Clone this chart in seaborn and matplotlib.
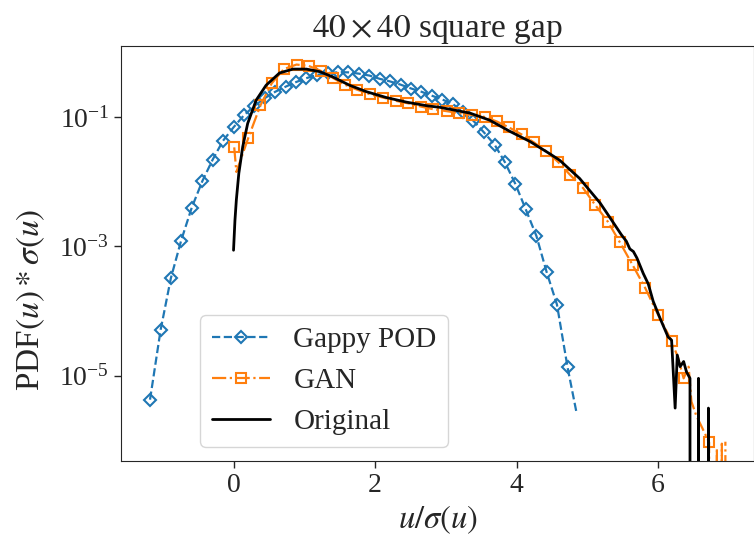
import numpy as np
import pandas as pd
import matplotlib
matplotlib.use("Agg")
import matplotlib.pyplot as plt
import seaborn as sns
from matplotlib.ticker import FixedLocator, NullLocator

# ---------------- data (x = u/sigma(u), log10 of PDF*sigma) ----------------
pod_x = [-1.18, -1.03, -0.885, -0.74, -0.59, -0.44, -0.295, -0.15, 0.0, 0.15,
         0.295, 0.44, 0.59, 0.74, 0.885, 1.03, 1.18, 1.33, 1.475, 1.62,
         1.77, 1.92, 2.065, 2.21, 2.36, 2.51, 2.655, 2.80, 2.95, 3.10,
         3.245, 3.39, 3.54, 3.69, 3.835, 3.98, 4.13, 4.28, 4.425, 4.57,
         4.72, 4.85]
pod_log = [-5.37, -4.29, -3.49, -2.91, -2.40, -1.99, -1.66, -1.37, -1.16, -0.97,
           -0.83, -0.71, -0.61, -0.53, -0.46, -0.40, -0.35, -0.32, -0.31, -0.31,
           -0.33, -0.36, -0.41, -0.45, -0.50, -0.56, -0.61, -0.67, -0.73, -0.80,
           -0.93, -1.06, -1.24, -1.43, -1.70, -2.03, -2.43, -2.84, -3.40, -3.90,
           -4.87, -5.59]

gan_x = [0.01, 0.04, 0.21, 0.38, 0.54, 0.71, 0.89, 1.06, 1.24, 1.41,
         1.57, 1.75, 1.93, 2.11, 2.29, 2.47, 2.65, 2.82, 3.01, 3.19,
         3.37, 3.55, 3.72, 3.89, 4.07, 4.24, 4.42, 4.59, 4.76, 4.94,
         5.11, 5.29, 5.46, 5.64, 5.82, 6.00, 6.19, 6.28, 6.36, 6.43,
         6.47, 6.54, 6.62, 6.72, 6.78, 6.83, 6.87, 6.90, 6.93, 6.95]
gan_log = [-1.47, -1.85, -1.32, -0.82, -0.48, -0.26, -0.19, -0.21, -0.29, -0.40,
           -0.50, -0.58, -0.65, -0.70, -0.75, -0.79, -0.84, -0.88, -0.91, -0.94,
           -0.97, -1.00, -1.07, -1.16, -1.27, -1.39, -1.53, -1.70, -1.90, -2.10,
           -2.36, -2.62, -2.94, -3.29, -3.65, -4.06, -4.46, -4.72, -5.04, -4.86,
           -5.40, -5.62, -5.80, -6.03, -np.inf, -6.12, -np.inf, -6.05, -np.inf, -6.02]
gan_marker_x = [0.01, 0.21, 0.38, 0.54, 0.71, 0.89, 1.06, 1.24, 1.41, 1.57,
                1.75, 1.93, 2.11, 2.29, 2.47, 2.65, 2.82, 3.01, 3.19, 3.37,
                3.55, 3.72, 3.89, 4.07, 4.24, 4.42, 4.59, 4.76, 4.94, 5.11,
                5.29, 5.46, 5.64, 5.82, 6.00, 6.19, 6.36, 6.72]

orig_x = [0.00, 0.02, 0.04, 0.075, 0.13, 0.20, 0.32, 0.46, 0.65, 0.84,
          1.03, 1.22, 1.40, 1.64, 1.88, 2.16, 2.44, 2.75, 2.91, 3.34,
          3.62, 3.90, 4.19, 4.47, 4.61, 4.89, 5.18, 5.34, 5.48, 5.55,
          5.60, 5.65, 5.70, 5.79, 5.86, 5.93, 6.03, 6.14, 6.19, 6.24,
          6.27, 6.31, 6.36, 6.40, 6.45, 6.48, 6.54, 6.57, 6.60, 6.69,
          6.71, 6.73]
orig_log = [-3.06, -2.60, -2.28, -1.87, -1.46, -1.10, -0.74, -0.51, -0.32, -0.26,
            -0.26, -0.30, -0.38, -0.51, -0.61, -0.70, -0.77, -0.83, -0.85, -0.94,
            -1.05, -1.22, -1.38, -1.57, -1.67, -1.95, -2.33, -2.59, -2.82, -2.92,
            -3.04, -3.08, -3.18, -3.42, -3.58, -3.85, -4.12, -4.40, -4.45, -5.50,
            -4.68, -4.86, -4.78, -4.94, -5.04, -np.inf, -np.inf, -5.04, -np.inf, -np.inf,
            -5.50, -np.inf]

labels = ["Gappy POD", "GAN", "Original"]
title = r"$40\times40$ square gap"
xlabel = r"$u/\sigma(u)$"
ylabel = r"PDF$(u)*\sigma(u)$"
yticks = [1e-5, 1e-3, 1e-1]
xticks = [0, 2, 4, 6]

# ---------------- style ----------------
sns.set_style("ticks")
plt.rcParams["font.family"] = ["Liberation Serif", "DejaVu Serif"]
plt.rcParams["mathtext.fontset"] = "stix"
plt.rcParams["axes.edgecolor"] = "0.15"
plt.rcParams["xtick.color"] = "0.15"
plt.rcParams["ytick.color"] = "0.15"

pod = pd.DataFrame({"x": pod_x, "y": np.power(10.0, pod_log)})
gan = pd.DataFrame({"x": gan_x, "y": np.power(10.0, gan_log)})
orig = pd.DataFrame({"x": orig_x, "y": np.power(10.0, orig_log)})

fig = plt.figure(figsize=(7.54, 5.39), dpi=100)
ax = fig.add_axes([121 / 754, 78 / 539, 633.4 / 754, 415 / 539])

blue = "#1f77b4"
orange = "#ff7f0e"

sns.lineplot(data=pod, x="x", y="y", ax=ax, color=blue, linestyle="--", lw=1.6,
             marker="D", markersize=6.2, markerfacecolor="none", markeredgecolor=blue,
             markeredgewidth=1.5, markevery=list(range(len(pod_x) - 1)),
             label=labels[0], sort=False, estimator=None)

gan_every = [i for i, v in enumerate(gan_x) if v in gan_marker_x]
sns.lineplot(data=gan, x="x", y="y", ax=ax, color=orange, linestyle="-.", lw=1.6,
             marker="s", markersize=6.5, markerfacecolor="none", markeredgecolor=orange,
             markeredgewidth=1.5, markevery=gan_every,
             label=labels[1], sort=False, estimator=None)

sns.lineplot(data=orig, x="x", y="y", ax=ax, color="black", lw=2.0,
             label=labels[2], sort=False, estimator=None)

ax.set_yscale("log")
ax.set_xlim(-1.59, 7.36)
ax.set_ylim(10 ** -6.318, 10 ** 0.097)
ax.yaxis.set_major_locator(FixedLocator(yticks))
ax.yaxis.set_minor_locator(NullLocator())
ax.set_xticks(xticks)
ax.tick_params(labelsize=20, length=5, width=1)

ax.set_title(title, fontsize=24)
ax.set_xlabel(xlabel, fontsize=23.5)
ax.set_ylabel(ylabel, fontsize=24)
ax.yaxis.set_label_coords(-0.117, 0.388)

ax.legend(loc="lower left", bbox_to_anchor=(0.1247, 0.0337), borderaxespad=0,
          fontsize=21, frameon=True)

fig.savefig("out.png", dpi=100)
